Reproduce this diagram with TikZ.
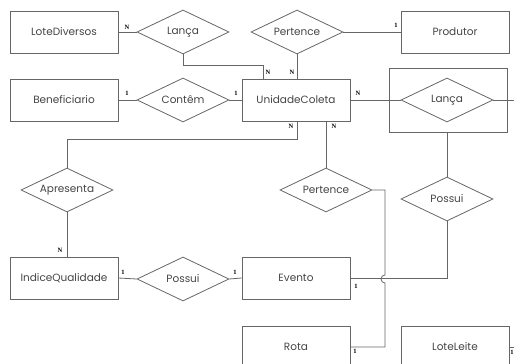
\documentclass[tikz,border=0pt]{standalone}
\usepackage{fontspec}
\setmainfont{Poppins}
\newfontfamily\cardfont{Liberation Serif}
\usetikzlibrary{shapes.geometric}
\definecolor{linha}{HTML}{666666}
\definecolor{texto}{HTML}{444444}
\tikzset{
  entidade/.style={draw=linha, line width=0.8pt, rectangle, minimum width=108pt, minimum height=42pt,
    text=texto, font=\fontsize{10.5}{12}\selectfont},
  relacao/.style={draw=linha, line width=0.8pt, diamond, aspect=2, inner sep=0pt,
    minimum width=92pt, minimum height=44pt, text=texto, font=\fontsize{10.5}{12}\selectfont},
  card/.style={inner sep=0pt, text=black, font=\cardfont\bfseries\fontsize{6.5}{7}\selectfont}
}
\begin{document}
\begin{tikzpicture}[x=1pt, y=1pt, line width=0.8pt, draw=linha]
    \useasboundingbox (0,0) rectangle (514,364);
    \clip (0,0) rectangle (514,364);
    % entidades
    \node[entidade] (lotediversos) at (64,332) {LoteDiversos};
    \node[entidade] (produtor) at (455,332) {Produtor};
    \node[entidade] (beneficiario) at (64,264) {Beneficiario};
    \node[entidade] (unidade) at (296,264) {UnidadeColeta};
    \node[entidade] (indice) at (64,86) {IndiceQualidade};
    \node[entidade] (evento) at (296,86) {Evento};
    \node[entidade] (rota) at (296,17) {Rota};
    \node[entidade] (loteleite) at (455,17) {LoteLeite};
    % relacionamentos
    \node[relacao] (lanca1) at (183,332) {Lança};
    \node[relacao] (pertence1) at (297,332) {Pertence};
    \node[relacao] (contem) at (183,264) {Contêm};
    \node[relacao] (lanca2) at (447,264) {Lança};
    \node[draw=linha, line width=0.8pt, minimum width=118pt, minimum height=64pt] (agregado) at (448,264) {};
    \node[relacao] (apresenta) at (67,174) {Apresenta};
    \node[relacao] (pertence2) at (326,174) {Pertence};
    \node[relacao] (possui2) at (447,165) {Possui};
    \node[relacao] (possui1) at (183,85) {Possui};
    \coordinate (saida1) at (514,264);
    \coordinate (saida2) at (514,17);
    % ligacoes
    \draw (lotediversos.east) -- (lanca1.west);
    \draw (lanca1.south) |- (263,299) -- (unidade.north -| 263,0);
    \draw (pertence1.east) -- (produtor.west);
    \draw (pertence1.south) -- (unidade.north -| pertence1.south);
    \draw (beneficiario.east) -- (contem.west);
    \draw (contem.east) -- (unidade.west);
    \draw (unidade.east) -- (lanca2.west);
    \draw (lanca2.east) -- (saida1);
    \draw (agregado.south -| possui2.north) -- (possui2.north);
    \draw (possui2.south) |- (evento.east);
    \draw (unidade.south -| 297,0) |- (67,225) -- (apresenta.north);
    \draw (apresenta.south) -- (indice.north -| apresenta.south);
    \draw (unidade.south -| pertence2.north) -- (pertence2.north);
    \draw (pertence2.east) -| (385,89) arc (90:270:4) |- (rota.east);
    \draw (indice.east) -- (possui1.west);
    \draw (possui1.east) -- (evento.west);
    \draw (loteleite.east) -- (saida2);
    % cardinalidades
    \foreach \px/\py/\t [count=\i] in {127/337/N, 268/292/N, 292/292/N, 396/339/1,
        127/271/1, 236/271/1, 358/271/N, 291/238/N, 334/238/N, 60/114/N,
        123/92/1, 235/92/1, 356/78/1, 355/13/1, 512/12/1} {
        \node[card] (c\i) at (\px,\py) {\t};
    }
\end{tikzpicture}
\end{document}
